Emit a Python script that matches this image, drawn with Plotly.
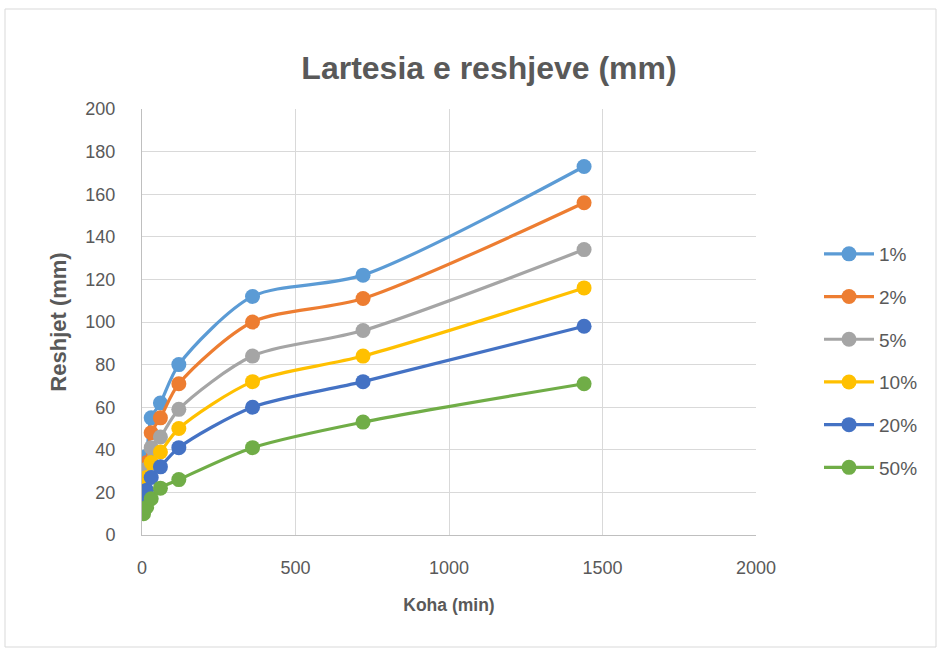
import plotly.graph_objects as go

time_min = [5, 15, 30, 60, 120, 360, 720, 1440]
series_names = ["1%", "2%", "5%", "10%", "20%", "50%"]
v_1 = [28, 37, 55, 62, 80, 112, 122, 173]
v_2 = [25, 34, 48, 55, 71, 100, 111, 156]
v_5 = [21, 31, 41, 46, 59, 84, 96, 134]
v_10 = [18, 27, 34, 39, 50, 72, 84, 116]
v_20 = [15, 21, 27, 32, 41, 60, 72, 98]
v_50 = [10, 13, 17, 22, 26, 41, 53, 71]
values = [v_1, v_2, v_5, v_10, v_20, v_50]
colors = ["#5B9BD5", "#ED7D31", "#A5A5A5", "#FFC000", "#4472C4", "#70AD47"]

font_family = "Liberation Sans, Arial"
fig = go.Figure()
for name, vals, c in zip(series_names, values, colors):
    fig.add_trace(go.Scatter(
        x=time_min, y=vals, name=name, legendgroup=name,
        mode="lines+markers",
        line=dict(color=c, width=3.2, shape="spline", smoothing=0.8),
        marker=dict(color=c, size=15),
    ))

W, H = 938, 648
L, R, T, B = 142, 182, 109, 113
pw, ph = W - L - R, H - T - B
def px_x(p):
    return (p - L) / pw
def px_y(p):
    return (H - B - p) / ph

fig.update_layout(
    width=W, height=H,
    margin=dict(l=L, r=R, t=T, b=B),
    paper_bgcolor="white", plot_bgcolor="white",
    font=dict(family=font_family, color="#595959", size=18),
    title=dict(text="<b>Lartesia e reshjeve (mm)</b>", xref="container", x=489 / W, xanchor="center",
               yref="container", y=1 - 68 / H, yanchor="middle",
               font=dict(size=32, color="#595959", family=font_family)),
    xaxis=dict(range=[0, 2000], tickvals=[0, 500, 1000, 1500, 2000],
               showgrid=True, gridcolor="#D9D9D9", gridwidth=1,
               zeroline=False, showline=True, linecolor="#BFBFBF", linewidth=1,
               ticks="", ticklabelstandoff=16, tickfont=dict(size=18),
               title=dict(text="<b>Koha (min)</b>", font=dict(size=17.5), standoff=22)),
    yaxis=dict(range=[0, 200], dtick=20,
               showgrid=True, gridcolor="#D9D9D9", gridwidth=1,
               zeroline=False, showline=True, linecolor="#BFBFBF", linewidth=1,
               ticks="", ticklabelstandoff=22, tickfont=dict(size=18),
               title=dict(text="<b>Reshjet (mm)</b>", font=dict(size=22), standoff=12)),
    legend=dict(x=px_x(819), xanchor="left", y=px_y(361), yanchor="middle",
                font=dict(size=19, color="#595959"), tracegroupgap=15,
                itemwidth=50, bgcolor="rgba(0,0,0,0)"),
    shapes=[dict(type="rect", xref="paper", yref="paper",
                 x0=px_x(5), x1=px_x(936), y0=px_y(647), y1=px_y(9),
                 line=dict(color="#D9D9D9", width=1), layer="below")],
)
fig.write_html("out.html", config={"displayModeBar": False},
               post_script="document.body.style.margin='0';document.body.style.overflow='hidden';")
